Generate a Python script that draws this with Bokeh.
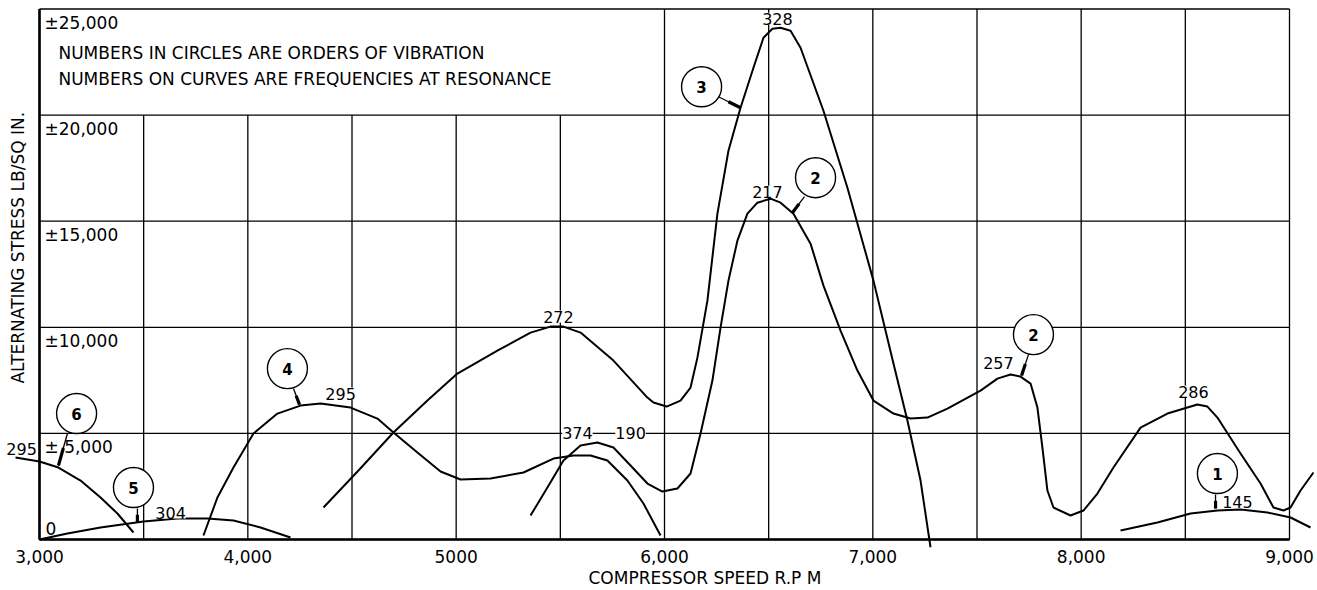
import numpy as np
from bokeh.plotting import figure
from bokeh.models import Range1d, FixedTicker, Title
from bokeh.core.properties import value
from bokeh.embed import file_html
from bokeh.resources import INLINE

FONT = "DejaVu Sans"

# ---------------- data ----------------
x_grid = [3000, 3500, 4000, 4500, 5000, 5500, 6000, 6500, 7000, 7500, 8000, 8500, 9000]
y_grid = [0, 5000, 10000, 15000, 20000, 25000]
x_ticks = [3000, 4000, 5000, 6000, 7000, 8000, 9000]
x_tick_labels = ["3,000", "4,000", "5000", "6,000", "7,000", "8,000", "9,000"]
y_ticks = [25000, 20000, 15000, 10000, 5000]
y_tick_labels = ["±25,000", "±20,000", "±15,000", "±10,000", "± 5,000"]
zero_label = "0"

# order 6
o6_rpm = [2885, 2942, 3000, 3091, 3197, 3293, 3374, 3451]
o6_stress = [3862, 3768, 3674, 3391, 2779, 1978, 1225, 330]
# order 5
o5_rpm = [3000, 3134, 3293, 3499, 3662, 3806, 3931, 4061, 4205]
o5_stress = [0, 283, 565, 848, 989, 989, 895, 565, 94]
# order 4
o4_rpm = [3787, 3854, 3931, 4027, 4142, 4253, 4349, 4493, 4622, 4699, 4814, 4925,
          5021, 5165, 5323, 5467, 5563, 5645, 5726, 5822, 5899, 5981]
o4_stress = [188, 1978, 3391, 4992, 5934, 6311, 6406, 6217, 5699, 5040, 4098, 3203,
             2826, 2873, 3156, 3815, 3956, 3956, 3721, 2779, 1696, 188]
# order 3
o3_rpm = [4363, 4531, 4699, 4862, 5006, 5198, 5357, 5453, 5515, 5597, 5755, 5918,
          5947, 6010, 6077, 6125, 6158, 6206, 6254, 6307, 6365, 6427, 6475, 6518,
          6557, 6605, 6653, 6763, 6878, 7003, 7099, 7166, 7229, 7277]
o3_stress = [1507, 3250, 5040, 6547, 7819, 8902, 9750, 10032, 10032, 9750, 8431, 6688,
             6453, 6264, 6547, 7159, 8572, 11257, 15355, 18322, 20347, 22231, 23644, 24068,
             24115, 23974, 23173, 20206, 16579, 12199, 8290, 5605, 2779, -377]
# order 2
o2_rpm = [5357, 5438, 5515, 5597, 5678, 5755, 5837, 5918, 5990, 6062, 6125, 6173,
          6230, 6269, 6307, 6350, 6398, 6446, 6509, 6557, 6619, 6701, 6763, 6845,
          6926, 7003, 7099, 7181, 7262, 7358, 7517, 7598, 7661, 7709, 7757, 7790,
          7814, 7838, 7867, 7949, 8011, 8078, 8155, 8285, 8414, 8558, 8606, 8654,
          8765, 8861, 8923, 8971, 9005, 9053, 9115]
o2_stress = [1130, 2449, 3721, 4427, 4569, 4333, 3485, 2637, 2261, 2402, 3109, 4992,
             7489, 9985, 12199, 14083, 15355, 15873, 16061, 15873, 15355, 13942, 11963, 9844,
             7960, 6547, 5935, 5699, 5746, 6170, 7018, 7583, 7772, 7677, 7348, 6217,
             4333, 2308, 1507, 1130, 1366, 2167, 3391, 5275, 5935, 6359, 6264, 5746,
             4051, 2637, 1507, 1366, 1507, 2308, 3156]
# order 1
o1_rpm = [8189, 8366, 8525, 8654, 8765, 8894, 9005, 9101]
o1_stress = [424, 801, 1225, 1366, 1413, 1272, 1036, 565]

# circled orders of vibration and their leaders
circle_orders = ["6", "5", "4", "3", "2", "2", "1"]
circle_rpm = [3178, 3451, 4190, 6178, 6725, 7771, 8654]
circle_stress = [5935, 2449, 8054, 21336, 17050, 9656, 3109]
leader_rpm0 = [3134, 3470, 4219, 6259, 6672, 7747, 8645]
leader_st0 = [4993, 1460, 7112, 20865, 16155, 8714, 2120]
leader_rpm1 = [3091, 3470, 4248, 6365, 6614, 7714, 8645]
leader_st1 = [3485, 800, 6358, 20347, 15402, 7724, 1460]

# frequencies at resonance
freq_labels = ["295", "304", "295", "272", "374", "190", "328", "217", "257", "286", "145"]
freq_rpm = [2914, 3629, 4445, 5491, 5582, 5837, 6542, 6494, 7603, 8539, 8750]
freq_stress = [4286, 1272, 6877, 10503, 5040, 5040, 24539, 16391, 8337, 6971, 1790]

note_lines = ["NUMBERS IN CIRCLES ARE ORDERS OF VIBRATION",
              "NUMBERS ON CURVES ARE FREQUENCIES AT RESONANCE"]
note_rpm = [3091, 3091]
note_stress = [22938, 21713]

x_title = "COMPRESSOR SPEED R.P M"
y_title = "ALTERNATING STRESS LB/SQ IN."

# ---------------- figure ----------------
# page: 3000 rpm at x=39, 9000 at x=1289; 0 at y=539, 25000 at y=8.5
p = figure(frame_width=1313, frame_height=541,
           x_range=Range1d(2832, 9134.4), y_range=Range1d(-377, 25118),
           output_backend="svg", toolbar_location=None,
           y_axis_location=None, min_border_left=4, min_border_right=0,
           min_border_top=6, min_border_bottom=0)
p.outline_line_color = None
p.xgrid.visible = False
p.ygrid.visible = False
p.background_fill_color = "white"
p.border_fill_color = "white"

ax = p.xaxis[0]
ax.ticker = FixedTicker(ticks=x_ticks)
ax.major_label_overrides = {t: l for t, l in zip(x_ticks, x_tick_labels)}
ax.axis_line_color = None
ax.major_tick_line_color = None
ax.minor_tick_line_color = None
ax.major_tick_out = 0
ax.major_tick_in = 0
ax.major_label_standoff = 2
ax.major_label_text_font = FONT
ax.major_label_text_font_size = "17px"
ax.major_label_text_color = "black"

p.add_layout(Title(text=x_title, align="left", offset=584, text_font=FONT,
                   text_font_size="17px", text_font_style="normal",
                   text_color="black", standoff=0), "below")

# grid
xs = np.array(x_grid, dtype=float)
vtop = np.where((xs >= 6000) | (xs == 3000), 25000, 20000)
p.segment(x0=xs, y0=np.zeros_like(xs), x1=xs, y1=vtop, line_color="black", line_width=1.3)
ys = np.array(y_grid, dtype=float)
p.segment(x0=np.full_like(ys, x_grid[0]), y0=ys, x1=np.full_like(ys, x_grid[-1]), y1=ys,
          line_color="black", line_width=1.3)
# heavier left and bottom border
p.segment(x0=[x_grid[0], x_grid[0]], y0=[y_grid[0], y_grid[0]],
          x1=[x_grid[0], x_grid[-1]], y1=[y_grid[-1], y_grid[0]],
          line_color="black", line_width=2.6)

# curves
for xr, yr in [(o6_rpm, o6_stress), (o5_rpm, o5_stress), (o4_rpm, o4_stress),
               (o3_rpm, o3_stress), (o2_rpm, o2_stress), (o1_rpm, o1_stress)]:
    p.line(xr, yr, line_color="black", line_width=2.0, line_join="round")

# leaders
l0x = np.array(leader_rpm0, float); l0y = np.array(leader_st0, float)
l1x = np.array(leader_rpm1, float); l1y = np.array(leader_st1, float)
p.segment(x0=l0x, y0=l0y, x1=l1x, y1=l1y, line_color="black", line_width=1.3)
mx = l0x + 0.45 * (l1x - l0x); my = l0y + 0.45 * (l1y - l0y)
p.segment(x0=mx, y0=my, x1=l1x, y1=l1y, line_color="black", line_width=3.2)

# circles
p.scatter(circle_rpm, circle_stress, marker="circle", size=40, fill_color="white",
          line_color="black", line_width=1.4)
p.text(circle_rpm, circle_stress, text=circle_orders, text_align="center",
       text_baseline="middle", text_font=value(FONT), text_font_size="15px",
       text_font_style="bold", text_color="black")

# frequency labels
p.text(freq_rpm, freq_stress, text=freq_labels, text_align="center",
       text_baseline="middle", text_font=value(FONT), text_font_size="16px",
       text_color="black", background_fill_color="white")

# notes
p.text(note_rpm, note_stress, text=note_lines, text_align="left", text_baseline="middle",
       text_font=value(FONT), text_font_size="17px", text_color="black")

# y tick labels inside the frame
p.text(x=[x_grid[0]] * len(y_ticks), y=y_ticks, text=y_tick_labels, x_offset=5, y_offset=4,
       text_align="left", text_baseline="top", text_font=value(FONT),
       text_font_size="17px", text_color="black")
p.text(x=[x_grid[0]], y=[0], text=[zero_label], x_offset=6, y_offset=-5,
       text_align="left", text_baseline="bottom", text_font=value(FONT),
       text_font_size="17px", text_color="black")

# y title
p.text(x=[2899], y=[13750], text=[y_title], angle=np.pi / 2, text_align="center",
       text_baseline="middle", text_font=value(FONT), text_font_size="17px",
       text_color="black")

open("out.html", "w").write(file_html(p, INLINE))
